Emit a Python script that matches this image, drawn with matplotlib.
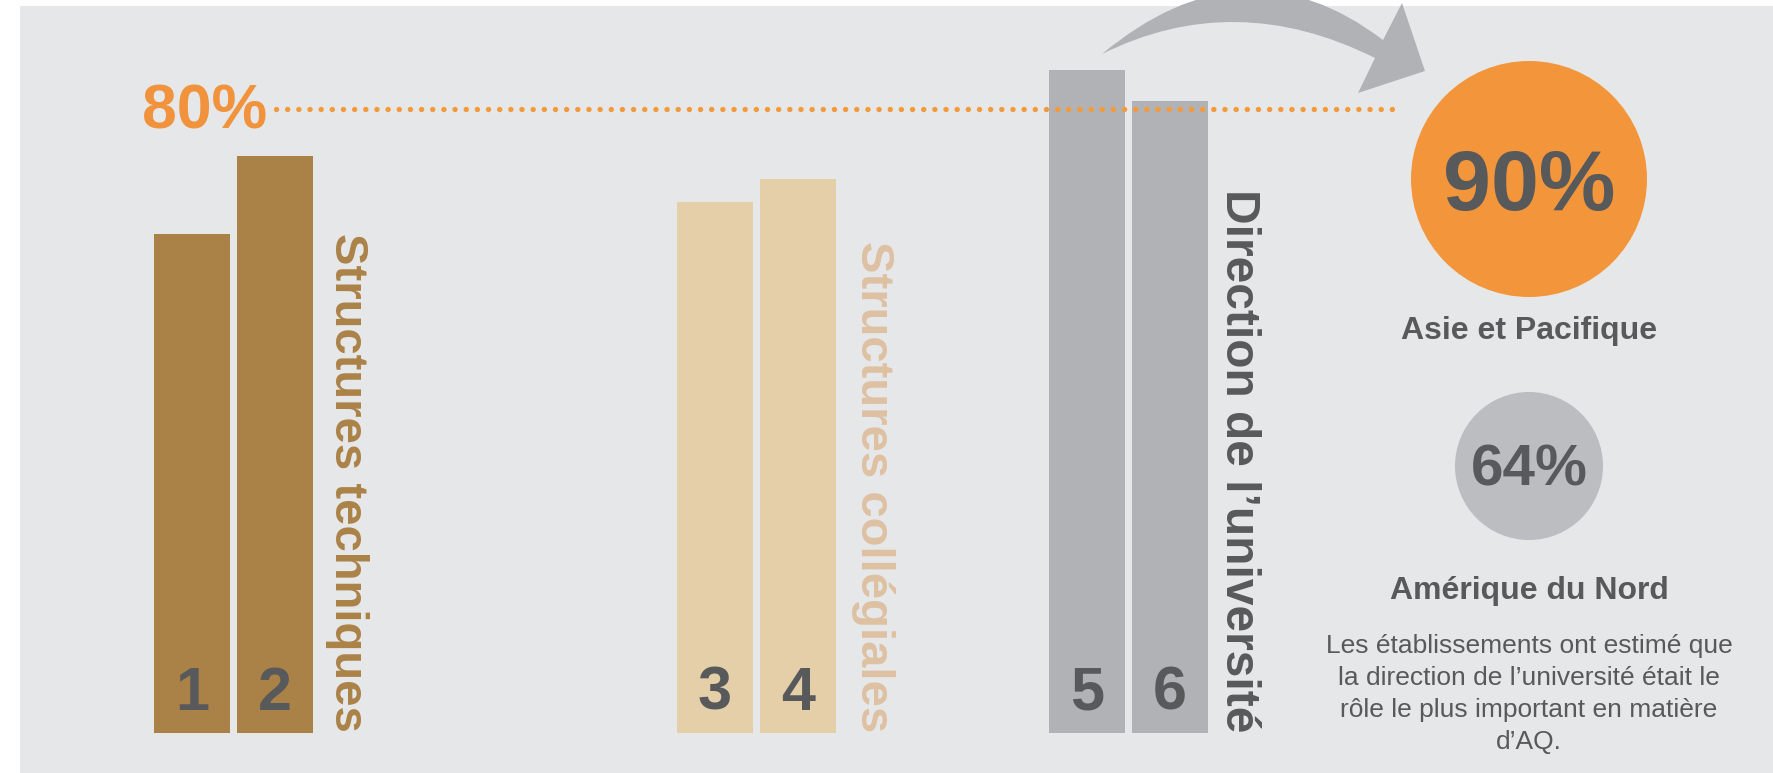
import matplotlib.pyplot as plt
from matplotlib.patches import Rectangle, Circle, PathPatch
from matplotlib.path import Path

# values
roles = ["Structures techniques", "Structures collégiales", "Direction de l’université"]
bar_ids = ["1", "2", "3", "4", "5", "6"]
values = [64, 74, 68, 71, 85, 81]
ref_pct = 80
regions = ["Asie et Pacifique", "Amérique du Nord"]
region_pct = [90, 64]
note = ("Les établissements ont estimé que\nla direction de l’université était le\n"
        "rôle le plus important en matière\nd’AQ.")

BG = "#E6E7E9"
DARK = "#58595B"
ORANGE = "#F3963B"
bar_colors = ["#AA8147", "#AA8147", "#E4CFA9", "#E4CFA9", "#B1B2B6", "#B1B2B6"]
label_colors = ["#AB8247", "#DEC0A2", DARK]

plt.rcParams['font.family'] = ['Liberation Sans', 'DejaVu Sans']

W, H = 1773, 773
fig = plt.figure(figsize=(W / 100, H / 100), dpi=100, facecolor="white")

# overlay in pixel coordinates for panel, arrow, circles, text
ov = fig.add_axes([0, 0, 1, 1])
ov.set_xlim(0, W)
ov.set_ylim(H, 0)
ov.axis("off")
ov.add_patch(Rectangle((20, 6), W - 20, H - 6, facecolor=BG, edgecolor="none", zorder=0))

# curved arrow
verts = [(1102, 54), (1235, -12), (1375, 58),
         (1358, 93), (1425, 71), (1402, 3), (1383, 40),
         (1245, -65), (1102, 54), (1102, 54)]
codes = [Path.MOVETO, Path.CURVE3, Path.CURVE3,
         Path.LINETO, Path.LINETO, Path.LINETO, Path.LINETO,
         Path.CURVE3, Path.CURVE3, Path.CLOSEPOLY]
ov.add_patch(PathPatch(Path(verts, codes), facecolor="#B1B2B6", edgecolor="none", zorder=2))

# region circles
cx = 1529
ov.add_patch(Circle((cx, 179), 118, facecolor=ORANGE, edgecolor="none", zorder=2))
ov.add_patch(Circle((cx, 466), 74, facecolor="#BCBDC0", edgecolor="none", zorder=2))
ov.text(cx, 210, f"{region_pct[0]}%", ha="center", va="baseline", fontsize=62,
        fontweight="bold", color=DARK, zorder=3)
ov.text(cx, 486, f"{region_pct[1]}%", ha="center", va="baseline", fontsize=42,
        fontweight="bold", color=DARK, zorder=3)
ov.text(cx, 339, regions[0], ha="center", va="baseline", fontsize=23,
        fontweight="bold", color=DARK)
ov.text(cx, 599, regions[1], ha="center", va="baseline", fontsize=23,
        fontweight="bold", color=DARK)
ov.text(cx, 634, note, ha="center", va="top", multialignment="center",
        fontsize=19, color=DARK, linespacing=1.42)

# bar axes: y in percent, baseline at pixel 733, 80% at pixel 108.7
base_px = 733
px_per_pct = (base_px - 108.7) / ref_pct
ax = fig.add_axes([0, 0, 1, 1])
ax.patch.set_alpha(0)
ax.set_xlim(0, W)
ax.set_ylim(-(H - base_px) / px_per_pct, base_px / px_per_pct)
ax.axis("off")

group_left = [154, 677, 1049]
bw, gap = 76, 7
xs = []
for gl in group_left:
    xs += [gl + bw / 2, gl + bw + gap + bw / 2]

ax.bar(xs, values, width=bw, color=bar_colors, zorder=2)
for x, lab in zip(xs, bar_ids):
    ax.text(x, (base_px - 710) / px_per_pct, lab, ha="center", va="baseline",
            fontsize=44, fontweight="bold", color=DARK, zorder=3)

label_x = [347, 873, 1238]
label_size = [34, 34, 34.5]
for lx, role, col, fs in zip(label_x, roles, label_colors, label_size):
    ax.text(lx, (base_px - 732) / px_per_pct, role, rotation=-90, ha="center", va="bottom",
            fontsize=fs, fontweight="bold", color=col, zorder=3)

# 80% reference line
ax.plot([276, 1393], [ref_pct, ref_pct], color="#F39A3C", lw=3.9,
        linestyle=(0, (0.01, 2.05)), dash_capstyle="round", zorder=4)
ax.text(205, ref_pct - (128 - 108.7) / px_per_pct, f"{ref_pct}%", ha="center", va="baseline",
        fontsize=45, fontweight="bold", color="#F0933C", zorder=3)

fig.savefig("out.png", dpi=100, facecolor="white")
